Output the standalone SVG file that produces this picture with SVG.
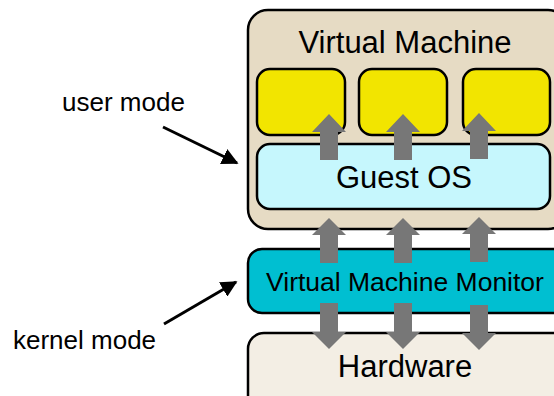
<svg xmlns="http://www.w3.org/2000/svg" width="554" height="396" viewBox="0 0 554 396">
<defs>
<style>
.box{stroke:#000;stroke-width:2.5}
.t{font-family:"Liberation Sans",Arial,sans-serif;fill:#000;text-anchor:middle}
.lbl{font-family:"Liberation Sans",Arial,sans-serif;fill:#000;font-size:26px}
.garrow{fill:#777777}
.pointer{stroke:#000;stroke-width:3;fill:none}
</style>
<marker id="ah" viewBox="0 0 10 10" refX="9" refY="5" markerWidth="5.5" markerHeight="5.5" markerUnits="strokeWidth" orient="auto">
<path d="M0,0 L10,5 L0,10 z" fill="#000"/>
</marker>
</defs>
<rect width="554" height="396" fill="#fff"/>
<g id="vm">
<rect class="box" x="248" y="10" width="320" height="219" rx="20" fill="#E6DBC4"/>
<text class="t" x="405" y="53" font-size="31">Virtual Machine</text>
</g>
<g id="app1"><rect class="box" x="257" y="69" width="88" height="66" rx="13" fill="#F2E500"/></g>
<g id="app2"><rect class="box" x="359" y="69" width="88" height="66" rx="13" fill="#F2E500"/></g>
<g id="app3"><rect class="box" x="463" y="69" width="87" height="66" rx="13" fill="#F2E500"/></g>
<g id="guestos">
<rect class="box" x="257" y="144" width="293" height="65" rx="13" fill="#C6F7FD"/>
<text class="t" x="404" y="188" font-size="31">Guest OS</text>
</g>
<g id="vmm">
<rect class="box" x="248" y="249" width="320" height="64" rx="14" fill="#00BFD1"/>
<text class="t" x="405" y="291" font-size="26.5">Virtual Machine Monitor</text>
</g>
<g id="hardware">
<rect class="box" x="248" y="333" width="320" height="80" rx="16" fill="#F3EEE4"/>
<text class="t" x="405" y="377" font-size="31">Hardware</text>
</g>
<g id="user-mode"><text class="lbl" x="62" y="111">user mode</text></g>
<g id="kernel-mode"><text class="lbl" x="13" y="349">kernel mode</text></g>
<g id="connectors">
<polygon class="garrow" points="329,114 346,132 338,132 338,160 320,160 320,132 312,132"/>
<polygon class="garrow" points="403,114 420,132 412,132 412,160 394,160 394,132 386,132"/>
<polygon class="garrow" points="479,113 496,131 488,131 488,159 470,159 470,131 462,131"/>
<polygon class="garrow" points="329,218 346,235 338,235 338,263 320,263 320,235 312,235"/>
<polygon class="garrow" points="403,218 420,235 412,235 412,263 394,263 394,235 386,235"/>
<polygon class="garrow" points="479,217 496,234 488,234 488,262 470,262 470,234 462,234"/>
<polygon class="garrow" points="329,349 346,332 338,332 338,303 320,303 320,332 312,332"/>
<polygon class="garrow" points="403,349 420,332 412,332 412,303 394,303 394,332 386,332"/>
<polygon class="garrow" points="479,350 496,333 488,333 488,305 470,305 470,333 462,333"/>
<line class="pointer" x1="163" y1="127" x2="237" y2="163" marker-end="url(#ah)"/>
<line class="pointer" x1="164" y1="324" x2="236" y2="282" marker-end="url(#ah)"/>
</g>
</svg>
